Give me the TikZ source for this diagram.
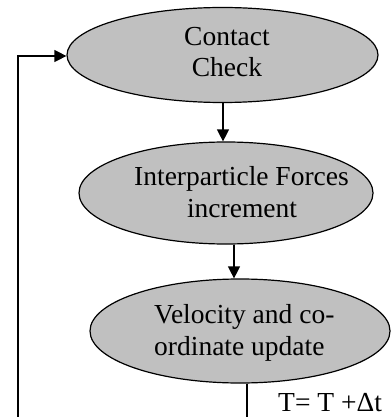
\documentclass[tikz,border=0pt]{standalone}
\usepackage{fontspec}
\setmainfont{Liberation Serif}
\usetikzlibrary{shapes.geometric,arrows.meta}
\definecolor{boxgray}{RGB}{192,192,192}
\tikzset{
  stage/.style={draw=black, line width=1.2pt, fill=boxgray, ellipse, inner sep=0pt},
  lbl/.style={inner sep=0pt, font=\fontsize{27.5}{31}\selectfont},
  flow/.style={line width=1.2pt, -{Triangle[length=12pt,width=12pt]}},
  wire/.style={line width=1.2pt}
}
\begin{document}
\begin{tikzpicture}[x=1pt,y=-1pt]
  \useasboundingbox (0,0) rectangle (391,417);

  % process stages
  \node[stage, minimum width=311pt, minimum height=95pt]  (e1) at (222.5,55) {};
  \node[stage, minimum width=294pt, minimum height=102pt] (e2) at (226,193) {};
  \node[stage, minimum width=300pt, minimum height=104pt] (e3) at (240,331) {};

  % stage texts
  \node[lbl, anchor=base] (t1a) at (227,46) {Contact};
  \node[lbl, anchor=base] (t1b) at (227,77) {Check};
  \node[lbl, anchor=base] (t2a) at (241.5,185) {Interparticle Forces};
  \node[lbl, anchor=base] (t2b) at (242,217) {increment};
  \node[lbl, anchor=base west] (t3a) at (154,323) {Velocity and co-};
  \node[lbl, anchor=base west] (t3b) at (154,355) {ordinate update};

  % time step label
  \node[lbl, anchor=base west] (dt) at (278,411) {T= T +Δt};

  % downward flow
  \draw[flow] (e1.south -| 223,0) -- (e2.north -| 223,0);
  \draw[flow] (e2.south -| 234,0) -- (e3.north -| 234,0);

  % loop back to the contact check
  \coordinate (out) at (247,417);
  \coordinate (lb) at (18,417);
  \coordinate (lt) at (18,56);
  \draw[wire] (e3.south -| out) -- (out);
  \draw[flow] (lb) -- (lt) -- (lt -| e1.west);
\end{tikzpicture}
\end{document}
